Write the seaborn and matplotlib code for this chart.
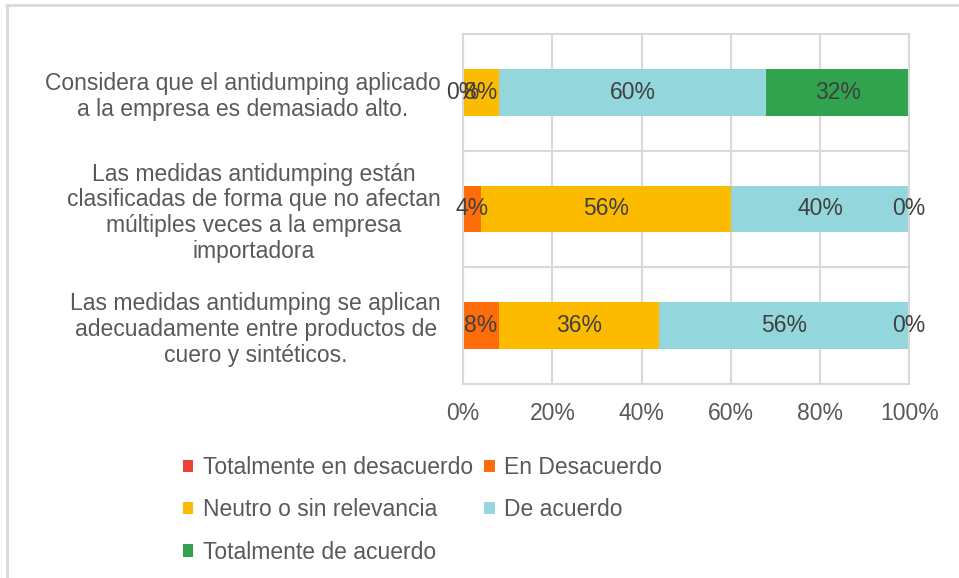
import matplotlib
matplotlib.use('Agg')
import matplotlib.pyplot as plt
import seaborn as sns
import numpy as np
from matplotlib.patches import Patch
from matplotlib.lines import Line2D

# datos
preguntas = ['Considera que el antidumping aplicado\na la empresa es demasiado alto.',
             'Las medidas antidumping están\nclasificadas de forma que no afectan\nmúltiples veces a la empresa\nimportadora',
             'Las medidas antidumping se aplican\nadecuadamente entre productos de\ncuero y sintéticos.']
series = ['Totalmente en desacuerdo', 'En Desacuerdo', 'Neutro o sin relevancia',
          'De acuerdo', 'Totalmente de acuerdo']
tot_desacuerdo = [0, 0, 0]
en_desacuerdo = [0, 4, 8]
neutro = [8, 56, 36]
de_acuerdo = [60, 40, 56]
tot_acuerdo = [32, 0, 0]
con_etiqueta = [False, True, True, True, True]   # la serie roja no tiene etiquetas
xticks = [0, 20, 40, 60, 80, 100]

colores = ['#E8423A', '#FF6D0A', '#FDBB00', '#93D7DD', '#31A34F']
gris = '#595959'
fs = 16.5

sns.set_theme(style='white')
plt.rcParams['font.family'] = ['Liberation Sans', 'DejaVu Sans']

valores = np.array([tot_desacuerdo, en_desacuerdo, neutro, de_acuerdo, tot_acuerdo], dtype=float)
acumulado = valores.cumsum(axis=0)

fig = plt.figure(figsize=(9.59, 5.78), dpi=100)
ax = fig.add_axes([0.483, 0.336, 0.465, 0.605])

# barras apiladas: se dibuja el acumulado de mayor a menor
for i in reversed(range(len(series))):
    sns.barplot(x=acumulado[i], y=list(range(len(preguntas))), orient='h', color=colores[i],
                width=0.4, linewidth=0, saturation=1, ax=ax)

for i in range(len(series)):
    if not con_etiqueta[i]:
        continue
    for j in range(len(preguntas)):
        centro = acumulado[i][j] - valores[i][j] / 2
        ax.text(centro, j, f'{valores[i][j]:.0f}%', ha='center', va='center',
                fontsize=fs, color='#404040')

ax.set_xlim(0, 100)
ax.set_ylim(2.5, -0.5)
ax.set_xticks(xticks)
ax.set_xticklabels([f'{t}%' for t in xticks], fontsize=fs, color=gris)
ax.set_yticks(range(len(preguntas)))
ax.set_yticklabels(preguntas, fontsize=fs, color=gris, linespacing=1.15)
for lab in ax.get_yticklabels():
    lab.set_multialignment('center')
ax.tick_params(axis='both', length=0)
ax.tick_params(axis='x', pad=13)
ax.tick_params(axis='y', pad=16)
ax.set_xlabel('')
ax.set_ylabel('')

ax.grid(False)
for t in xticks:
    ax.axvline(t, color='#D9D9D9', lw=1.5, zorder=0)
for b in [0.5, 1.5]:
    ax.axhline(b, color='#D9D9D9', lw=1.5, zorder=0)
for s in ax.spines.values():
    s.set_color('#D9D9D9')
    s.set_linewidth(1.5)

# leyenda abajo en dos columnas
handles = [Patch(facecolor=c, edgecolor='none') for c in colores]
orden = [0, 2, 4, 1, 3]
fig.legend([handles[k] for k in orden], [series[k] for k in orden],
           loc='upper left', bbox_to_anchor=(0.191, 0.211), ncol=2, frameon=False,
           fontsize=fs, labelcolor=gris, handlelength=0.45, handleheight=0.45,
           handletextpad=0.4, columnspacing=0.5, labelspacing=0.84,
           borderpad=0, borderaxespad=0)

# borde del area del grafico
fig.add_artist(Line2D([0.006, 1.0], [0.991, 0.991], color='#D9D9D9', lw=2))
fig.add_artist(Line2D([0.007, 0.007], [0.0, 0.991], color='#D9D9D9', lw=2))

fig.savefig('out.png', dpi=100)
